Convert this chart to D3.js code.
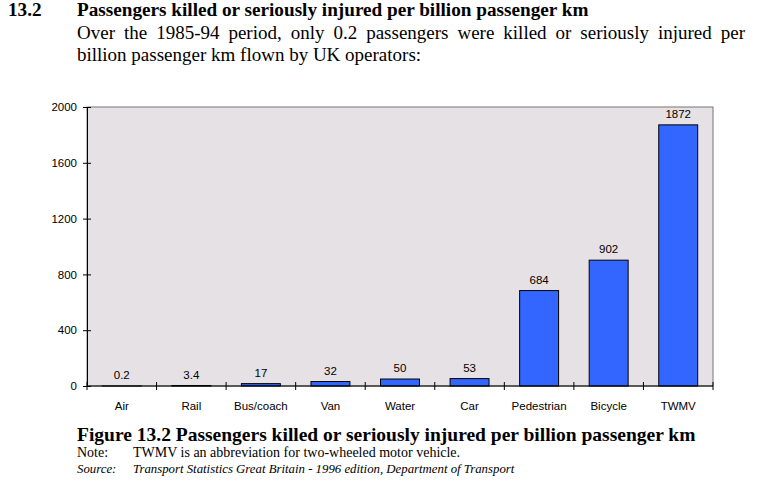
<!DOCTYPE html>
<html>
<head>
<meta charset="utf-8">
<script src="https://cdn.jsdelivr.net/npm/d3@7"></script>
<style>
  html, body { margin: 0; padding: 0; background: #fff; }
  svg { display: block; }
</style>
</head>
<body>
<svg id="chart" width="763" height="483"></svg>
<script>
const categories = ["Air", "Rail", "Bus/coach", "Van", "Water", "Car", "Pedestrian", "Bicycle", "TWMV"];
const values = [0.2, 3.4, 17, 32, 50, 53, 684, 902, 1872];
const valueLabels = ["0.2", "3.4", "17", "32", "50", "53", "684", "902", "1872"];
const yTicks = [0, 400, 800, 1200, 1600, 2000];

(function () {
const svg = d3.select("#chart");
const serif = "'Liberation Serif', 'Times New Roman', serif";
const sans = "'Liberation Sans', Arial, sans-serif";

// Header text
svg.append("text").attr("x", 8).attr("y", 16)
  .attr("font-family", serif).attr("font-weight", "bold").attr("font-size", 19.2)
  .text("13.2");
svg.append("text").attr("x", 77).attr("y", 16)
  .attr("font-family", serif).attr("font-weight", "bold").attr("font-size", 19.2)
  .text("Passengers killed or seriously injured per billion passenger km");
const line1 = svg.append("text").attr("x", 77).attr("y", 39)
  .attr("font-family", serif).attr("font-size", 19)
  .text("Over the 1985-94 period, only 0.2 passengers were killed or seriously injured per");
const natural = line1.node().getComputedTextLength();
const nSpaces = line1.text().split(" ").length - 1;
line1.attr("word-spacing", Math.max(0, (668 - natural) / nSpaces));
svg.append("text").attr("x", 77).attr("y", 61)
  .attr("font-family", serif).attr("font-size", 19)
  .text("billion passenger km flown by UK operators:");

// Plot
const pLeft = 87, pRight = 713, pTop = 107, pBottom = 386;
const x = d3.scaleBand().domain(categories).range([pLeft, pRight]).paddingInner(0.44).paddingOuter(0.22);
const xb = d3.scaleBand().domain(categories).range([pLeft, pRight]);
const y = d3.scaleLinear().domain([0, 2000]).range([pBottom, pTop]);

svg.append("rect").attr("x", pLeft).attr("y", pTop)
  .attr("width", pRight - pLeft).attr("height", pBottom - pTop)
  .attr("fill", "#E6E1E4").attr("stroke", "#777").attr("stroke-width", 1);

// Bars
svg.append("g").selectAll("rect").data(categories).join("rect")
  .attr("x", d => x(d))
  .attr("y", (d, i) => y(values[i]))
  .attr("width", x.bandwidth())
  .attr("height", (d, i) => pBottom - y(values[i]))
  .attr("fill", "#3366FF").attr("stroke", "#000").attr("stroke-width", 1);

// Value labels
svg.append("g").selectAll("text").data(categories).join("text")
  .attr("x", d => x(d) + x.bandwidth() / 2)
  .attr("y", (d, i) => y(values[i]) - 7)
  .attr("text-anchor", "middle")
  .attr("font-family", sans).attr("font-size", 11.5)
  .text((d, i) => valueLabels[i]);

// Y axis
const yAxis = d3.axisLeft(y).tickValues(yTicks).tickSize(4).tickFormat(d3.format("d"));
const gy = svg.append("g").attr("transform", `translate(${pLeft},0)`).call(yAxis);
gy.select(".domain").attr("stroke", "#000");
gy.selectAll(".tick line").attr("x1", 4).attr("x2", -4).attr("stroke", "#000");
gy.selectAll(".tick text").attr("x", -10).attr("font-family", sans).attr("font-size", 11.5).attr("fill", "#000");

// X axis
const gx = svg.append("g").attr("transform", `translate(0,${pBottom})`);
gx.append("line").attr("x1", pLeft).attr("x2", pRight).attr("stroke", "#000");
const boundaries = categories.map(d => xb(d)).concat([pRight]);
gx.selectAll("line.tk").data(boundaries).join("line").attr("class", "tk")
  .attr("x1", d => d).attr("x2", d => d).attr("y1", -4).attr("y2", 4).attr("stroke", "#000");
gx.selectAll("text").data(categories).join("text")
  .attr("x", d => xb(d) + xb.bandwidth() / 2).attr("y", 24)
  .attr("text-anchor", "middle").attr("font-family", sans).attr("font-size", 11.5)
  .text(d => d);

// Caption
svg.append("text").attr("x", 77).attr("y", 441)
  .attr("font-family", serif).attr("font-weight", "bold").attr("font-size", 19.5)
  .text("Figure 13.2 Passengers killed or seriously injured per billion passenger km");
svg.append("text").attr("x", 77).attr("y", 457)
  .attr("font-family", serif).attr("font-size", 14)
  .text("Note:");
svg.append("text").attr("x", 133).attr("y", 457)
  .attr("font-family", serif).attr("font-size", 14)
  .text("TWMV is an abbreviation for two-wheeled motor vehicle.");
svg.append("text").attr("x", 77).attr("y", 473)
  .attr("font-family", serif).attr("font-style", "italic").attr("font-size", 12.8)
  .text("Source:");
svg.append("text").attr("x", 133).attr("y", 473)
  .attr("font-family", serif).attr("font-style", "italic").attr("font-size", 12.8)
  .text("Transport Statistics Great Britain - 1996 edition,  Department of Transport");
})();
</script>
</body>
</html>
